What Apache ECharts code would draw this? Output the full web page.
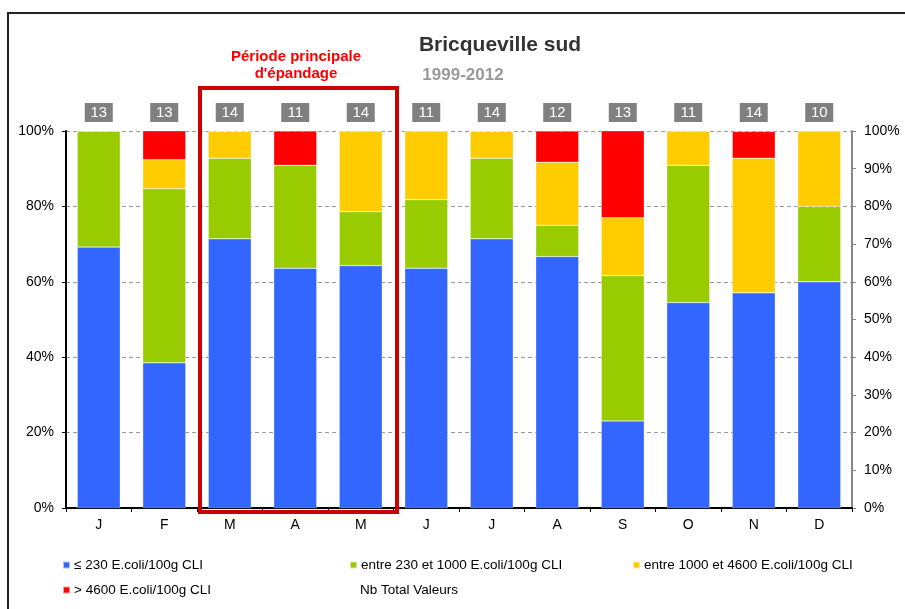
<!DOCTYPE html>
<html>
<head>
<meta charset="utf-8">
<script src="https://cdn.jsdelivr.net/npm/echarts@6/dist/echarts.min.js"></script>
<style>
html,body{margin:0;padding:0;background:#fff;}
#chart{width:905px;height:609px;}
</style>
</head>
<body>
<div id="chart"></div>
<script>
const months = ['J','F','M','A','M','J','J','A','S','O','N','D'];
const totals = [13,13,14,11,14,11,14,12,13,11,14,10];
const pctLow = [69.2,38.5,71.4,63.6,64.3,63.6,71.4,66.7,23.1,54.5,57.1,60.0];
const pctMid = [30.8,46.2,21.4,27.3,14.3,18.2,21.4,8.3,38.5,36.4,0,20.0];
const pctHigh = [0,7.7,7.1,0,21.4,18.2,7.1,16.7,15.4,9.1,35.7,20.0];
const pctVeryHigh = [0,7.7,0,9.1,0,0,0,8.3,23.1,0,7.1,0];
const leftTicks = ['0%','20%','40%','60%','80%','100%'];
const rightTicks = ['0%','10%','20%','30%','40%','50%','60%','70%','80%','90%','100%'];

const names = ['≤ 230 E.coli/100g CLI','entre 230 et 1000 E.coli/100g CLI','entre 1000 et 4600 E.coli/100g CLI','> 4600 E.coli/100g CLI','Nb Total Valeurs'];
const colors = ['#3366ff','#99cc00','#ffcc00','#ff0000'];
const FONT = "'Liberation Sans', Arial, sans-serif";

const chart = echarts.init(document.getElementById('chart'));

function barSeries(name, data, color) {
  return {
    name: name, type: 'bar', stack: 'all', data: data,
    barWidth: 43,
    itemStyle: {color: color, borderColor: 'rgba(255,255,255,0.6)', borderWidth: 0.5},
    emphasis: {disabled: true}
  };
}

function legendItem(name, left, top, hidden) {
  return {
    left: left, top: top, orient: 'horizontal', padding: 0,
    itemWidth: 7, itemHeight: 7, itemGap: 5,
    data: [hidden ? {name: name, icon: 'rect', itemStyle: {color: 'rgba(0,0,0,0)', opacity: 0}} : {name: name, icon: 'rect'}],
    textStyle: {fontFamily: FONT, fontSize: 13.5, color: '#000', padding: [0,0,0,-1]},
    selectedMode: true
  };
}

const option = {
  animation: false,
  backgroundColor: '#fff',
  color: colors.concat(['#808080']),
  textStyle: {fontFamily: FONT},
  grid: {left: 66, right: 53, top: 131, bottom: 101, containLabel: false},
  xAxis: {
    type: 'category', data: months,
    axisLine: {lineStyle: {color: '#000', width: 2}},
    axisTick: {show: true, length: 4, lineStyle: {color: '#000', width: 1}},
    axisLabel: {color: '#000', fontSize: 14, margin: 10, fontFamily: FONT}
  },
  yAxis: [
    {
      type: 'value', min: 0, max: 100, interval: 20, position: 'left',
      axisLine: {show: true, lineStyle: {color: '#000', width: 2}},
      axisTick: {show: true, length: 4, lineStyle: {color: '#000'}},
      axisLabel: {color: '#000', fontSize: 14, margin: 12, fontFamily: FONT,
        formatter: function (v) { return leftTicks[Math.round(v / 20)]; }},
      splitLine: {show: true, lineStyle: {color: '#9a9a9a', type: [4, 3], width: 1}}
    },
    {
      type: 'value', min: 0, max: 100, interval: 10, position: 'right',
      axisLine: {show: true, lineStyle: {color: '#888', width: 2}},
      axisTick: {show: true, length: 4, lineStyle: {color: '#888'}},
      axisLabel: {color: '#000', fontSize: 14, margin: 12, fontFamily: FONT,
        formatter: function (v) { return rightTicks[Math.round(v / 10)]; }},
      splitLine: {show: false}
    }
  ],
  legend: [
    legendItem(names[0], 62, 558, false),
    legendItem(names[1], 349, 558, false),
    legendItem(names[2], 632, 558, false),
    legendItem(names[3], 62, 583, false),
    legendItem(names[4], 349, 583, true)
  ],
  series: [
    barSeries(names[0], pctLow, colors[0]),
    barSeries(names[1], pctMid, colors[1]),
    barSeries(names[2], pctHigh, colors[2]),
    barSeries(names[3], pctVeryHigh, colors[3]),
    {
      name: names[4], type: 'custom',
      data: totals.map(function (t, i) { return [i, t]; }),
      encode: {x: 0, y: -1},
      itemStyle: {color: '#808080'},
      renderItem: function (params, api) {
        const p = api.coord([api.value(0), 100]);
        return {
          type: 'group',
          children: [
            {type: 'rect', shape: {x: p[0] - 14, y: p[1] - 28, width: 28, height: 19},
             style: {fill: '#808080'}},
            {type: 'text', x: p[0], y: p[1] - 18,
             style: {text: String(api.value(1)), fill: '#fff', font: '15px ' + FONT,
                     align: 'center', verticalAlign: 'middle'}}
          ]
        };
      }
    }
  ],
  graphic: [
    {type: 'polyline', shape: {points: [[8, 609], [8, 13], [905, 13]]},
     style: {stroke: '#222', lineWidth: 2, fill: null}, silent: true},
    {type: 'text', x: 500, y: 45,
     style: {text: 'Bricqueville sud', font: 'bold 21px ' + FONT, fill: '#333', align: 'center', verticalAlign: 'middle'}},
    {type: 'text', x: 463, y: 75,
     style: {text: '1999-2012', font: 'bold 17px ' + FONT, fill: '#999', align: 'center', verticalAlign: 'middle'}},
    {type: 'text', x: 296, y: 57,
     style: {text: 'Période principale', font: 'bold 15px ' + FONT, fill: '#ff0000', align: 'center', verticalAlign: 'middle'}},
    {type: 'text', x: 296, y: 74,
     style: {text: "d'épandage", font: 'bold 15px ' + FONT, fill: '#ff0000', align: 'center', verticalAlign: 'middle'}},
    {type: 'rect', shape: {x: 200, y: 88, width: 197, height: 424},
     style: {stroke: '#cc0000', lineWidth: 4, fill: null}, silent: true, z: 100}
  ]
};
chart.setOption(option);
</script>
</body>
</html>
